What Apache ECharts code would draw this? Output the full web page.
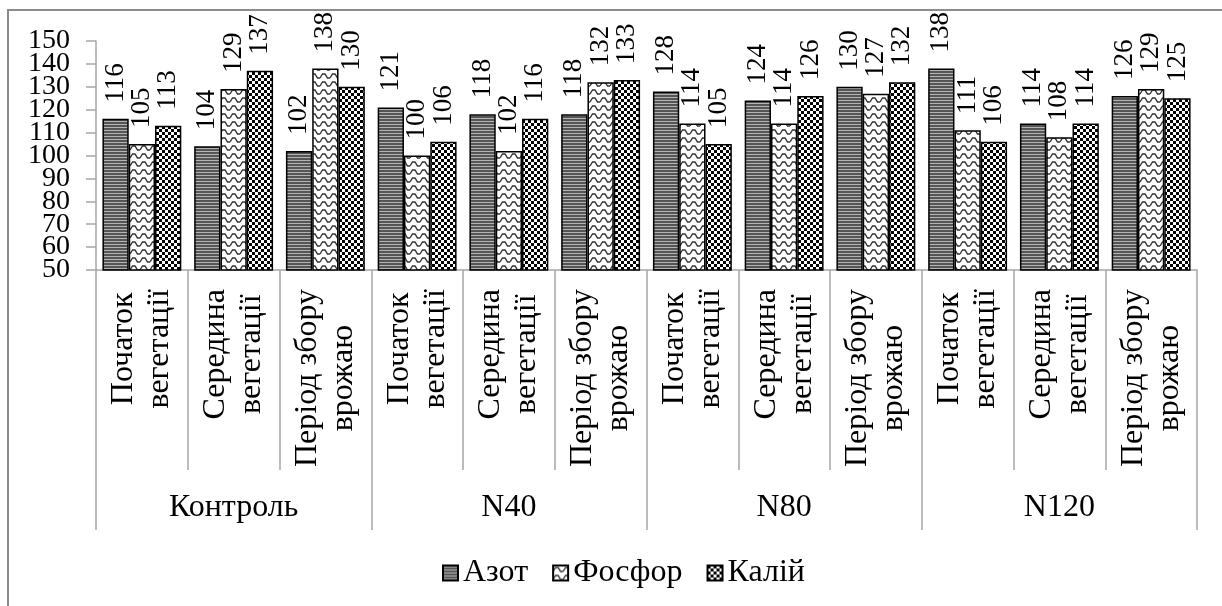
<!DOCTYPE html>
<html>
<head>
<meta charset="utf-8">
<script src="https://cdn.jsdelivr.net/npm/echarts@6/dist/echarts.min.js"></script>
<style>
  html, body { margin: 0; padding: 0; background: #fff; }
  #chart { width: 1222px; height: 606px; }
</style>
</head>
<body>
<div id="chart"></div>
<script>
// Periods within each treatment group
const periods = [
  'Початок\nвегетації', 'Середина\nвегетації', 'Період збору\nврожаю',
  'Початок\nвегетації', 'Середина\nвегетації', 'Період збору\nврожаю',
  'Початок\nвегетації', 'Середина\nвегетації', 'Період збору\nврожаю',
  'Початок\nвегетації', 'Середина\nвегетації', 'Період збору\nврожаю'
];
// Treatment groups
const groups = ['Контроль', 'N40', 'N80', 'N120'];
// Series values
const azot   = [116, 104, 102, 121, 118, 118, 128, 124, 130, 138, 114, 126];
const fosfor = [105, 129, 138, 100, 102, 132, 114, 114, 127, 111, 108, 129];
const kaliy  = [113, 137, 130, 106, 116, 133, 105, 126, 132, 106, 114, 125];
const yTicks = { min: 50, max: 150, step: 10 };

const FONT = 'Liberation Serif';

// Plot box (px)
const PLOT = { left: 96, right: 25, top: 41, bottom: 336 };
const plotH = 606 - PLOT.top - PLOT.bottom;
const stepPx = plotH * yTicks.step / (yTicks.max - yTicks.min);

// Fill patterns for the three nutrients
function stripes() {
  const c = document.createElement('canvas');
  c.width = 4; c.height = 3;
  const g = c.getContext('2d');
  g.fillStyle = '#555555'; g.fillRect(0, 0, 4, 3);
  g.fillStyle = '#b4b4b4'; g.fillRect(0, 1, 4, 1);
  return c;
}
function waves() {
  const c = document.createElement('canvas');
  c.width = 10; c.height = 8;
  const g = c.getContext('2d');
  g.fillStyle = '#ffffff'; g.fillRect(0, 0, 10, 8);
  g.strokeStyle = '#333333'; g.lineWidth = 1.4;
  g.beginPath();
  g.moveTo(0, 6); g.lineTo(2.5, 2); g.lineTo(5, 2); g.lineTo(7.5, 6); g.lineTo(10, 6);
  g.stroke();
  return c;
}
function checker() {
  const c = document.createElement('canvas');
  c.width = 6; c.height = 6;
  const g = c.getContext('2d');
  g.fillStyle = '#ffffff'; g.fillRect(0, 0, 6, 6);
  g.fillStyle = '#000000';
  g.fillRect(0, 0, 3, 3); g.fillRect(3, 3, 3, 3);
  return c;
}

function makeSeries(name, data, pattern) {
  return {
    name: name,
    type: 'bar',
    xAxisIndex: 0,
    yAxisIndex: 0,
    data: data,
    barGap: '0%',
    barCategoryGap: '14%',
    itemStyle: {
      color: { image: pattern, repeat: 'repeat' },
      borderColor: '#000',
      borderWidth: 1.5
    },
    label: {
      show: true,
      position: 'top',
      distance: 16,
      rotate: 90,
      align: 'left',
      verticalAlign: 'middle',
      color: '#000',
      fontFamily: FONT,
      fontSize: 27
    }
  };
}

// Tick labels are tall relative to the 10-unit step, so the even and odd
// labels are carried by two label-only axes to keep all of them visible.
function labelAxis(gridIndex, min, max) {
  return {
    type: 'value',
    gridIndex: gridIndex,
    position: 'left',
    offset: 0,
    min: min,
    max: max,
    interval: 2 * yTicks.step,
    splitLine: { show: false },
    axisLine: { show: false },
    axisTick: { show: false },
    axisLabel: {
      margin: 26,
      color: '#000',
      fontFamily: FONT,
      fontSize: 28
    }
  };
}

const gridBase = { containLabel: false, outerBoundsMode: 'none' };

const chart = echarts.init(document.getElementById('chart'), null, { renderer: 'canvas' });
chart.setOption({
  animation: false,
  backgroundColor: '#fff',
  textStyle: { fontFamily: FONT },
  graphic: [{
    type: 'rect',
    shape: { x: 8, y: 10, width: 1240, height: 640 },
    style: { fill: 'none', stroke: '#8c8c8c', lineWidth: 2 },
    silent: true,
    z: -1
  }],
  grid: [
    Object.assign({ left: PLOT.left, right: PLOT.right, top: PLOT.top, bottom: PLOT.bottom }, gridBase),
    // same vertical scale as the plot, shifted one step inward at both ends
    Object.assign({ left: PLOT.left, right: PLOT.right, top: PLOT.top + stepPx, bottom: PLOT.bottom + stepPx }, gridBase)
  ],
  legend: {
    data: ['Азот', 'Фосфор', 'Калій'],
    left: 437,
    top: 552,
    icon: 'rect',
    itemWidth: 15,
    itemHeight: 15,
    itemGap: 24,
    textStyle: { fontFamily: FONT, fontSize: 32, color: '#000' }
  },
  xAxis: [{
    type: 'category',
    gridIndex: 0,
    data: periods,
    axisLine: { lineStyle: { color: '#a6a6a6', width: 1.5 } },
    axisTick: { show: true, interval: 0, length: 200, lineStyle: { color: '#a6a6a6', width: 1.5 } },
    axisLabel: {
      interval: 0,
      rotate: 90,
      align: 'right',
      verticalAlign: 'middle',
      margin: 19,
      color: '#000',
      fontFamily: FONT,
      fontSize: 32,
      lineHeight: 36,
      formatter: function (v) {
        return v.split('\n').map(function (s) { return '{c|' + s + '}'; }).join('\n');
      },
      rich: {
        c: { align: 'center', fontFamily: FONT, fontSize: 32, lineHeight: 36, color: '#000' }
      }
    }
  }, {
    type: 'category',
    gridIndex: 0,
    data: groups,
    position: 'bottom',
    axisLine: { show: false },
    axisTick: { show: true, interval: 0, length: 260, lineStyle: { color: '#a6a6a6', width: 1.5 } },
    axisLabel: {
      interval: 0,
      margin: 222,
      color: '#000',
      fontFamily: FONT,
      fontSize: 32
    }
  }, {
    type: 'value',
    gridIndex: 1,
    show: false
  }],
  yAxis: [{
    type: 'value',
    gridIndex: 0,
    position: 'left',
    min: yTicks.min,
    max: yTicks.max,
    interval: yTicks.step,
    splitLine: { show: false },
    axisLine: { show: true, lineStyle: { color: '#a6a6a6', width: 1.5 } },
    axisTick: { show: true, length: 10, lineStyle: { color: '#a6a6a6', width: 1.5 } },
    axisLabel: { show: false }
  },
    labelAxis(0, yTicks.min, yTicks.max),
    labelAxis(1, yTicks.min + yTicks.step, yTicks.max - yTicks.step)
  ],
  series: [
    makeSeries('Азот', azot, stripes()),
    makeSeries('Фосфор', fosfor, waves()),
    makeSeries('Калій', kaliy, checker())
  ]
});
</script>
</body>
</html>
